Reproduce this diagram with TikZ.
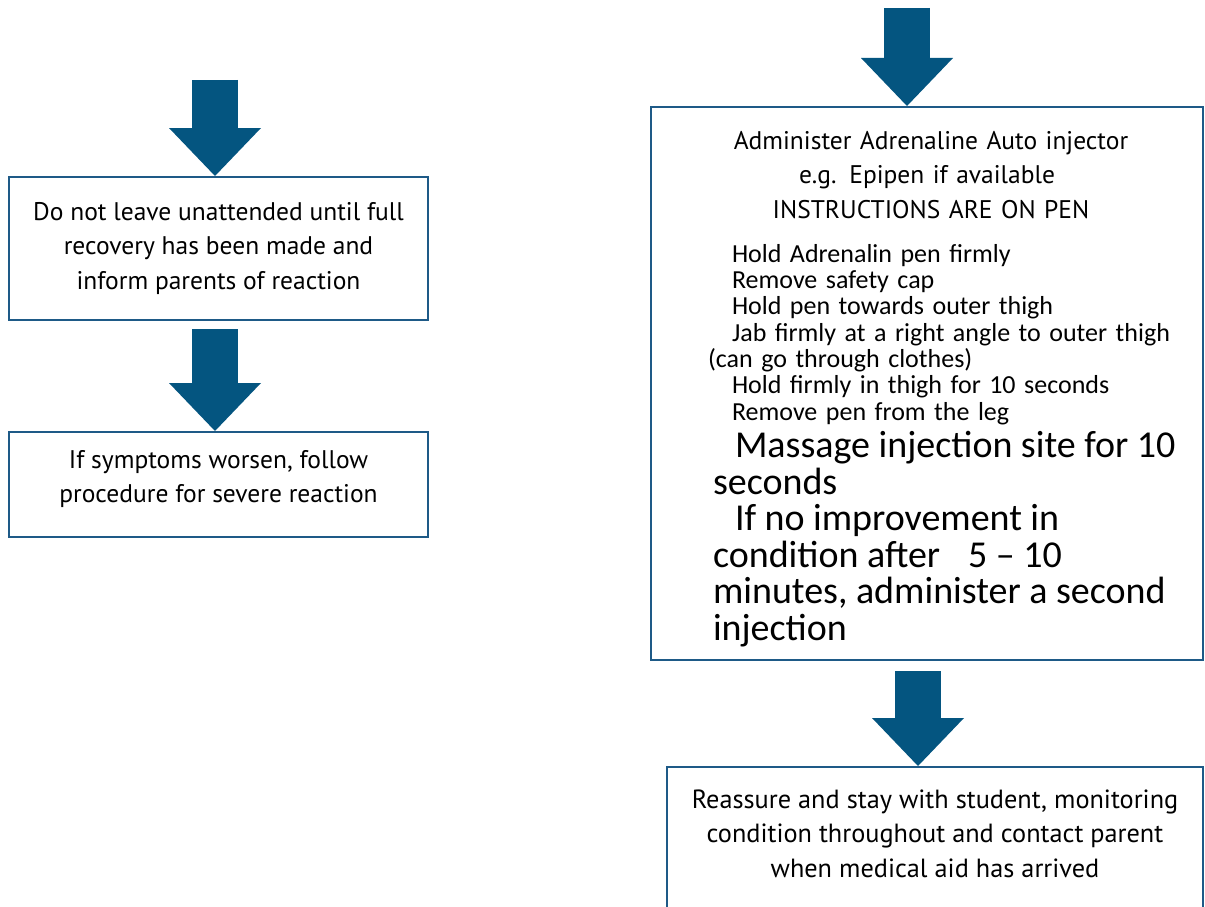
\documentclass[tikz,border=0pt]{standalone}
\usepackage{fontspec}
\setmainfont{PT Sans}
\newfontfamily\listfont{Carlito}
\usetikzlibrary{arrows.meta,positioning}
\definecolor{arrowblue}{RGB}{4,85,128}
\definecolor{boxblue}{RGB}{30,90,135}
\tikzset{
  box/.style={draw=boxblue, line width=2pt, fill=white, align=center, inner sep=0pt,
    font=\fontsize{25.5}{34.5}\selectfont},
  bigarrow/.style={draw=arrowblue, line width=46pt,
    -{Triangle[width=92pt,length=48pt,line width=0pt]}},
}
\begin{document}
\begin{tikzpicture}[x=1pt,y=-1pt]
\useasboundingbox (0,0) rectangle (1205,907);
% left column
\coordinate (lstart) at (215,80);
\node[box, minimum width=419pt, minimum height=143pt] (stay) at (218.5,248.5)
  {Do not leave unattended until full\\ recovery has been made and\\ inform parents of reaction};
\node[box, minimum width=419pt, minimum height=105pt, text depth=16pt] (worse) at (218.5,484.5)
  {If symptoms worsen, follow\\ procedure for severe reaction};
% right column
\coordinate (rstart) at (907,8);
\coordinate (rmid) at (918,0);
\node[box, align=left, text width=520pt, minimum width=552pt, minimum height=553pt] (adm) at (927,383.5) {%
  \par\vspace*{-5.5pt}
  {\centering\hspace*{8pt}Administer Adrenaline Auto injector\\
  e.g. Epipen if available\\
  \hspace*{8pt}INSTRUCTIONS ARE ON PEN\par}
  \vspace{17.5pt}
  {\listfont\fontsize{26}{26.3}\selectfont\raggedright\leftskip=41pt
  \hspace*{24pt}Hold Adrenalin pen firmly\\
  \hspace*{24pt}Remove safety cap\\
  \hspace*{24pt}Hold pen towards outer thigh\\
  \hspace*{24pt}Jab firmly at a right angle to outer thigh\\
  (can go through clothes)\\
  \hspace*{24pt}Hold firmly in thigh for 10 seconds\\
  \hspace*{24pt}Remove pen from the leg\par}
  \vspace{1pt}
  {\listfont\fontsize{38}{36.5}\selectfont\raggedright\leftskip=46pt
  \hspace*{22pt}Massage injection site for 10\\
  seconds\\
  \hspace*{22pt}If no improvement in\\
  condition after\hspace{28pt}5 – 10\\
  minutes, administer a second\\
  injection\par}};
\node[box, minimum width=536pt, minimum height=145pt, text depth=12pt,
  font=\fontsize{26.3}{34.5}\selectfont] (reassure) at (935,839.5)
  {Reassure and stay with student, monitoring\\ condition throughout and contact parent\\ when medical aid has arrived};
% arrows
\draw[bigarrow] (lstart) -- (stay.north -| lstart);
\draw[bigarrow, shorten <=8pt] (stay.south -| lstart) -- (worse.north -| lstart);
\draw[bigarrow] (rstart) -- (adm.north -| rstart);
\draw[bigarrow, shorten <=10pt] (adm.south -| rmid) -- (reassure.north -| rmid);
\end{tikzpicture}
\end{document}
